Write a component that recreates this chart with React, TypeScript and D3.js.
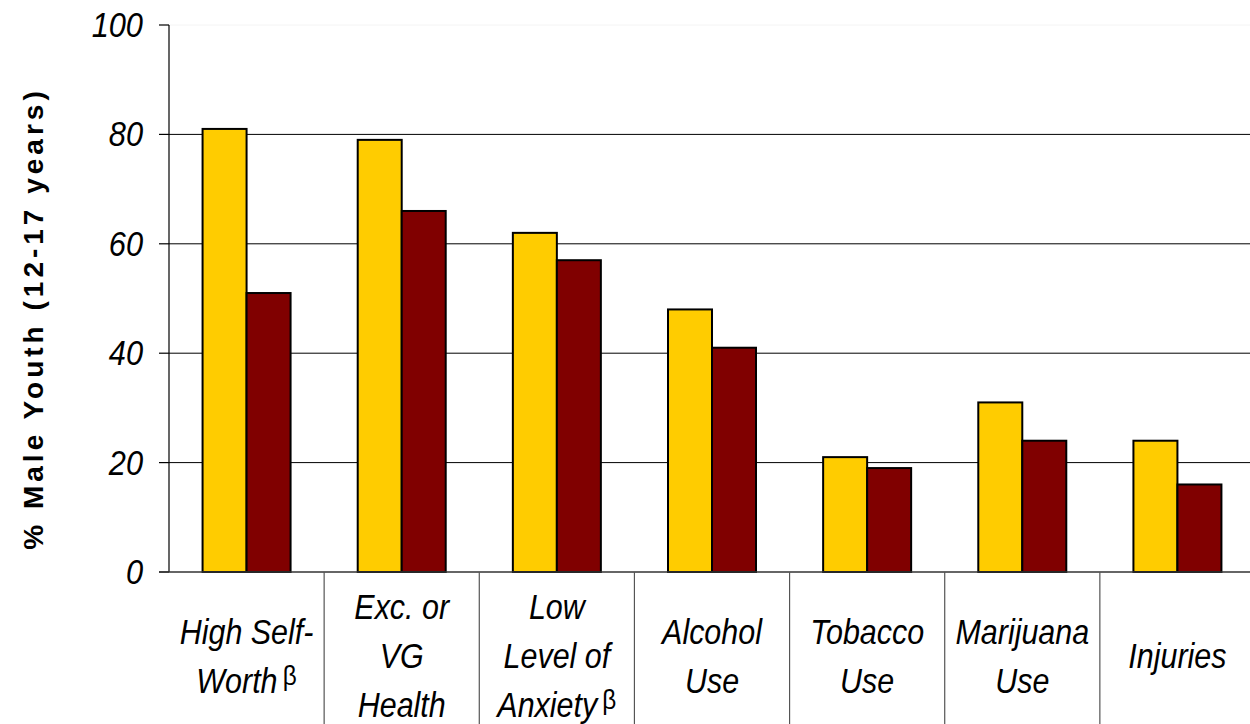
import React, { useRef, useEffect } from "react";
import * as d3 from "d3";

// Chart data
const categories = [
  "High Self-Worth",
  "Exc. or VG Health",
  "Low Level of Anxiety",
  "Alcohol Use",
  "Tobacco Use",
  "Marijuana Use",
  "Injuries",
];
const categoryLines: string[][] = [
  ["High Self-", "Worth"],
  ["Exc. or", "VG", "Health"],
  ["Low", "Level of", "Anxiety"],
  ["Alcohol", "Use"],
  ["Tobacco", "Use"],
  ["Marijuana", "Use"],
  ["Injuries"],
];
const betaMarked = [true, false, true, false, false, false, false];
const seriesA = [81, 79, 62, 48, 21, 31, 24];
const seriesB = [51, 66, 57, 41, 19, 24, 16];
const yTicks = [0, 20, 40, 60, 80, 100];
const yTitle = "% Male Youth (12-17 years)";

const W = 1250;
const H = 724;
const margin = { left: 169, right: -5, top: 25, bottom: 152 };
const colors = ["#FFCC00", "#800000"];
const FONT = "Liberation Sans, Arial, sans-serif";

const App: React.FC = () => {
  const svgRef = useRef<SVGSVGElement>(null);

  useEffect(() => {
    if (!svgRef.current) return;
    const svg = d3.select(svgRef.current);
    svg.selectAll("*").remove();

    const x0 = margin.left;
    const x1 = W - margin.right;
    const y0 = H - margin.bottom;

    const x = d3.scaleBand<string>().domain(categories).range([x0, x1]);
    const y = d3.scaleLinear().domain([0, 100]).range([y0, margin.top]);
    const barW = 44;

    // gridlines
    svg
      .append("g")
      .selectAll("line")
      .data(yTicks.filter((t) => t > 0))
      .join("line")
      .attr("x1", x0)
      .attr("x2", x1)
      .attr("y1", (d) => y(d))
      .attr("y2", (d) => y(d))
      .attr("stroke", (d) => (d === 100 ? "#f4f4f4" : "#000"))
      .attr("stroke-width", 1);

    // bars
    const bars = svg.append("g");
    [seriesA, seriesB].forEach((series, si) => {
      bars
        .append("g")
        .selectAll("rect")
        .data(series)
        .join("rect")
        .attr("x", (_, i) => (x(categories[i]) || 0) + x.bandwidth() / 2 - barW + si * barW)
        .attr("y", (d) => y(d))
        .attr("width", barW)
        .attr("height", (d) => y0 - y(d))
        .attr("fill", colors[si])
        .attr("stroke", "#000")
        .attr("stroke-width", 2);
    });

    // y axis
    svg
      .append("line")
      .attr("x1", x0)
      .attr("x2", x0)
      .attr("y1", margin.top)
      .attr("y2", y0)
      .attr("stroke", "#000")
      .attr("stroke-width", 1.2);

    const yt = svg.append("g");
    yt.selectAll("line")
      .data(yTicks)
      .join("line")
      .attr("x1", x0 - 10)
      .attr("x2", x0)
      .attr("y1", (d) => y(d))
      .attr("y2", (d) => y(d))
      .attr("stroke", "#000")
      .attr("stroke-width", 1.2);
    yt.selectAll("text")
      .data(yTicks)
      .join("text")
      .attr("transform", (d) => `translate(${x0 - 26},${y(d) + 12}) scale(0.88,1)`)
      .attr("text-anchor", "end")
      .attr("font-family", FONT)
      .attr("font-style", "italic")
      .attr("font-size", 35)
      .text((d) => d);

    // x axis baseline
    svg
      .append("line")
      .attr("x1", x0 - 10)
      .attr("x2", x1)
      .attr("y1", y0)
      .attr("y2", y0)
      .attr("stroke", "#333")
      .attr("stroke-width", 1.5);

    // category separators
    svg
      .append("g")
      .selectAll("line")
      .data(categories.slice(1))
      .join("line")
      .attr("x1", (d) => x(d) || 0)
      .attr("x2", (d) => x(d) || 0)
      .attr("y1", y0)
      .attr("y2", H)
      .attr("stroke", "#555")
      .attr("stroke-width", 1.2);

    // category labels
    const lineH = 49;
    const midY = 668;
    categories.forEach((c, i) => {
      const lines = categoryLines[i];
      const cx = (x(c) || 0) + x.bandwidth() / 2;
      const startY = midY - ((lines.length - 1) * lineH) / 2;
      lines.forEach((ln, li) => {
        const t = svg
          .append("text")
          .attr("transform", `translate(${cx},${startY + li * lineH}) scale(0.87,1)`)
          .attr("text-anchor", "middle")
          .attr("font-family", FONT)
          .attr("font-style", "italic")
          .attr("font-size", 35)
          .text(ln);
        if (betaMarked[i] && li === lines.length - 1) {
          t.append("tspan")
            .attr("font-style", "normal")
            .attr("font-size", 28)
            .attr("dy", -8)
            .attr("dx", 6)
            .text("β");
        }
      });
    });

    // y title
    svg
      .append("text")
      .attr("transform", `translate(43, ${(margin.top + y0) / 2 + 20}) rotate(-90)`)
      .attr("text-anchor", "middle")
      .attr("font-family", FONT)
      .attr("font-weight", "bold")
      .attr("font-size", 28)
      .attr("letter-spacing", 4)
      .text(yTitle);
  }, []);

  return (
    <svg
      ref={svgRef}
      width={W}
      height={H}
      style={{ position: "absolute", left: 0, top: 0, background: "#fff" }}
    />
  );
};

export default App;
